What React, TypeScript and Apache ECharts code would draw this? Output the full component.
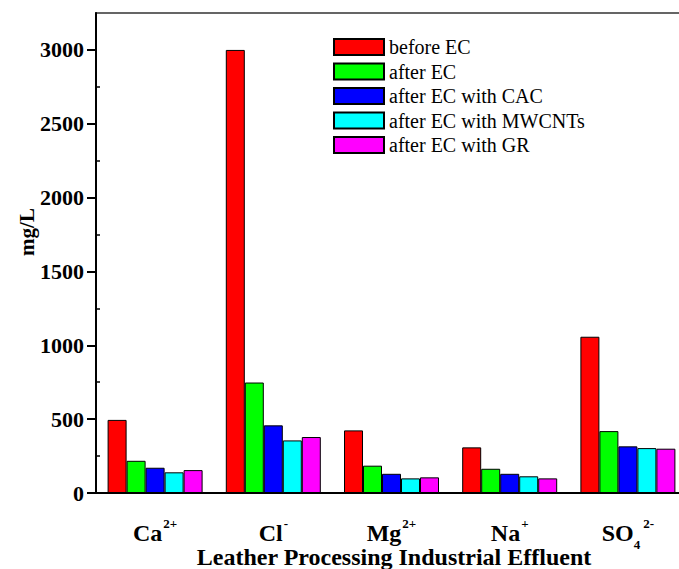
import React, { useEffect, useRef } from "react";
import * as echarts from "echarts";

const categories = ["Ca", "Cl", "Mg", "Na", "SO"];
const superscripts = ["2+", "-", "2+", "+", "2-"];
const subscripts = ["", "", "", "", "4"];

const seriesNames = [
  "before EC",
  "after EC",
  "after EC with CAC",
  "after EC with MWCNTs",
  "after EC with GR",
];
const seriesColors = ["#ff0000", "#00ff00", "#0000ff", "#00ffff", "#ff00ff"];

const beforeEC = [495, 3000, 424, 309, 1058];
const afterEC = [218, 748, 185, 164, 419];
const afterCAC = [171, 458, 130, 130, 316];
const afterMWCNTs = [140, 356, 99, 113, 304];
const afterGR = [155, 379, 106, 99, 300];

const yMajorTicks = [0, 500, 1000, 1500, 2000, 2500, 3000];
const yMinorTicks = [250, 750, 1250, 1750, 2250, 2750];

const xTitle = "Leather Processing Industrial Effluent";
const yTitle = "mg/L";

const FONT = "'Liberation Serif', 'Times New Roman', serif";

export default function App() {
  const ref = useRef<HTMLDivElement>(null);

  useEffect(() => {
    if (!ref.current) return;
    const chart = echarts.init(ref.current, undefined, { renderer: "svg" });
    const allData = [beforeEC, afterEC, afterCAC, afterMWCNTs, afterGR];

    chart.setOption({
      animation: false,
      backgroundColor: "#ffffff",
      textStyle: { fontFamily: FONT },
      grid: {
        left: 96,
        top: 13,
        width: 591,
        height: 480,
        outerBoundsMode: "none",
        containLabel: false,
        show: true,
        borderColor: "#333",
        borderWidth: 1.5,
        backgroundColor: "transparent",
      },
      legend: {
        orient: "vertical",
        left: 333,
        top: 37,
        padding: 0,
        itemWidth: 50,
        itemHeight: 16,
        itemGap: 4.5,
        icon: "rect",
        data: seriesNames,
        textStyle: {
          fontFamily: FONT,
          fontSize: 20,
          color: "#000",
        },
      },
      xAxis: {
        type: "category",
        data: categories,
        axisLine: { lineStyle: { color: "#000", width: 2 } },
        axisTick: {
          alignWithLabel: true,
          length: 9,
          lineStyle: { color: "#000", width: 2 },
        },
        axisLabel: {
          interval: 0,
          margin: 28,
          formatter: (value: string, index: number) => {
            let s = `{m|${value}}`;
            if (subscripts[index]) s += `{sub|${subscripts[index]}}`;
            if (superscripts[index]) s += `{sup|${superscripts[index]}}`;
            return s;
          },
          rich: {
            m: {
              fontFamily: FONT,
              fontSize: 24,
              fontWeight: "bold",
              color: "#000",
              lineHeight: 24,
            },
            sup: {
              fontFamily: FONT,
              fontSize: 13,
              fontWeight: "bold",
              color: "#000",
              lineHeight: 4,
              padding: [0, 0, 20, 1],
            },
            sub: {
              fontFamily: FONT,
              fontSize: 13,
              fontWeight: "bold",
              color: "#000",
              lineHeight: 4,
              padding: [22, 2, 0, 0],
            },
          },
        },
        splitLine: { show: false },
      },
      yAxis: [
        {
          type: "value",
          min: 0,
          max: 3250,
          interval: 500,
          axisLine: { show: true, lineStyle: { color: "#000", width: 2 } },
          axisTick: {
            show: true,
            length: 9,
            customValues: yMajorTicks,
            lineStyle: { color: "#000", width: 2 },
          },
          axisLabel: {
            customValues: yMajorTicks,
            formatter: (v: number) => String(v),
            fontFamily: FONT,
            fontSize: 22,
            fontWeight: "bold",
            color: "#000",
            margin: 12,
          },
          splitLine: { show: false },
        },
        {
          type: "value",
          min: 0,
          max: 3250,
          interval: 250,
          position: "left",
          axisLine: { show: false },
          axisLabel: { show: false },
          axisTick: {
            show: true,
            inside: true,
            length: 4,
            customValues: yMinorTicks,
            lineStyle: { color: "#000", width: 1.5 },
          },
          splitLine: { show: false },
        },
      ],
      graphic: [
        {
          type: "text",
          x: 27,
          y: 232,
          rotation: Math.PI / 2,
          style: {
            text: yTitle,
            fontFamily: FONT,
            fontSize: 21,
            fontWeight: "bold",
            fill: "#000",
            align: "center",
            verticalAlign: "middle",
          },
        },
        {
          type: "text",
          x: 394,
          y: 557,
          style: {
            text: xTitle,
            fontFamily: FONT,
            fontSize: 24,
            fontWeight: "bold",
            fill: "#000",
            align: "center",
            verticalAlign: "middle",
          },
        },
      ],
      series: seriesNames.map((name, i) => ({
        name,
        type: "bar",
        yAxisIndex: 0,
        data: allData[i],
        barWidth: 19,
        barGap: "0%",
        itemStyle: {
          color: seriesColors[i],
          borderColor: "#000",
          borderWidth: 1,
        },
      })),
    });

    return () => chart.dispose();
  }, []);

  return (
    <div
      ref={ref}
      style={{ position: "fixed", left: 0, top: 0, width: 679, height: 569 }}
    />
  );
}
